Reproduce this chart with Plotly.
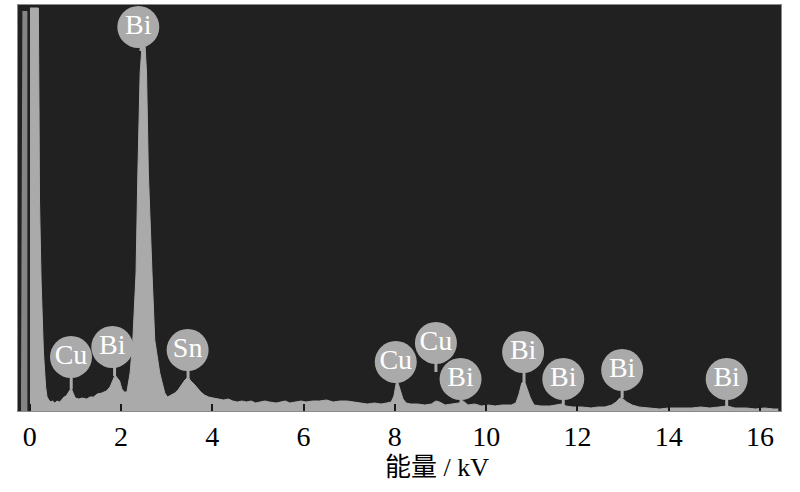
import plotly.graph_objects as go

# EDS spectrum: energy (keV) and counts (arbitrary units)
energy = [0.007, 0.19, 0.205, 0.215, 0.25, 0.30, 0.35, 0.38, 0.42, 0.46, 0.50, 0.55, 0.60, 0.65,
          0.70, 0.75, 0.80, 0.86, 0.91, 0.96, 1.00, 1.08, 1.15, 1.25, 1.32, 1.40, 1.48, 1.58,
          1.68, 1.76, 1.82, 1.87, 1.92, 1.97, 2.02, 2.07, 2.13, 2.20, 2.26, 2.33, 2.37, 2.42,
          2.46, 2.53, 2.56, 2.60, 2.68, 2.74, 2.85, 2.96, 3.02, 3.10, 3.18, 3.25, 3.33, 3.40,
          3.47, 3.53, 3.60, 3.67, 3.75, 3.83, 3.92, 4.02, 4.15, 4.25, 4.35, 4.45, 4.55, 4.65,
          4.75, 4.85, 4.95, 5.05, 5.15, 5.25, 5.40, 5.50, 5.60, 5.70, 5.80, 5.95, 6.05, 6.20,
          6.35, 6.50, 6.65, 6.80, 6.95, 7.10, 7.25, 7.40, 7.55, 7.70, 7.82, 7.92, 7.98, 8.03,
          8.07, 8.12, 8.18, 8.25, 8.35, 8.50, 8.65, 8.80, 8.90, 8.98, 9.10, 9.25, 9.40, 9.50,
          9.60, 9.75, 9.90, 10.05, 10.20, 10.35, 10.55, 10.65, 10.72, 10.78, 10.84, 10.90,
          10.97, 11.05, 11.20, 11.40, 11.55, 11.65, 11.75, 11.90, 12.10, 12.30, 12.45, 12.60,
          12.75, 12.85, 12.93, 13.00, 13.08, 13.20, 13.35, 13.55, 13.80, 14.00, 14.20, 14.50,
          14.70, 14.90, 15.10, 15.28, 15.45, 15.70, 15.90, 16.10, 16.30, 16.40]
counts = [403, 403, 300, 211, 130, 60, 24, 14, 11, 9, 10, 8, 10, 9,
          11, 14, 15, 19, 23, 17, 13, 12, 13, 12, 14, 14, 17, 18,
          20, 24, 31, 36, 33, 30, 22, 19, 19, 38, 71, 138, 238, 338,
          364, 364, 338, 238, 138, 71, 38, 18, 14, 16, 18, 21, 26, 31,
          34, 30, 27, 23, 19, 16, 14, 13, 12, 11, 12, 10, 9, 10,
          9, 10, 8, 9, 10, 9, 8, 9, 10, 8, 9, 10, 9, 10,
          10, 11, 9, 10, 10, 9, 8, 7, 8, 7, 8, 9, 15, 28,
          28, 20, 12, 8, 7, 7, 6, 7, 10, 9, 6, 7, 8, 10,
          6, 7, 5, 6, 5, 6, 6, 8, 17, 28, 30, 22,
          13, 6, 5, 5, 6, 7, 5, 4, 4, 3, 4, 4,
          6, 9, 13, 12, 9, 6, 4, 3, 2, 3, 3, 3,
          4, 3, 4, 5, 3, 3, 2, 3, 2, 2]

# dimmer shoulder just left of the zero peak
shoulder_energy = [-0.19, -0.16, -0.05]
shoulder_counts = [20, 400, 400]

# peak labels
label_text = ['Bi', 'Cu', 'Bi', 'Sn', 'Cu', 'Cu', 'Bi', 'Bi', 'Bi', 'Bi', 'Bi']
label_x = [2.38, 0.905, 1.81, 3.46, 8.02, 8.90, 9.44, 10.81, 11.69, 12.98, 15.27]
label_y = [384, 54, 64, 61, 49, 68, 32, 59, 32, 41, 32]
stick_x = [2.44, 0.91, 1.86, 3.47, 8.02, 8.90, 9.45, 10.83, 11.69, 12.98, 15.27]
stick_end = [360, 22, 35, 32, 28, 39, 9, 29, 6, 13, 4]

tick_vals = [0, 2, 4, 6, 8, 10, 12, 14, 16]

gray = '#aaaaaa'
serif = 'Liberation Serif, Times New Roman, serif'

fig = go.Figure()

fig.add_trace(go.Scatter(x=shoulder_energy, y=shoulder_counts, mode='lines',
                         fill='tozeroy', fillcolor='#858585',
                         line=dict(color='#858585', width=0), hoverinfo='skip'))

fig.add_trace(go.Scatter(x=energy, y=counts, mode='lines', fill='tozeroy',
                         fillcolor=gray, line=dict(color=gray, width=1)))

# sticks from each label down to its peak
sx, sy = [], []
for xs, y0, y1 in zip(stick_x, label_y, stick_end):
    sx += [xs, xs, None]
    sy += [y0, y1, None]
fig.add_trace(go.Scatter(x=sx, y=sy, mode='lines',
                         line=dict(color=gray, width=3), hoverinfo='skip'))

fig.add_trace(go.Scatter(x=label_x, y=label_y, mode='markers+text', text=label_text,
                         textposition='middle center', cliponaxis=False,
                         marker=dict(size=42, color=gray, line=dict(width=0)),
                         textfont=dict(family=serif, size=28, color='white')))

fig.update_layout(
    width=800, height=492,
    margin=dict(l=18, r=19, t=5, b=81),
    paper_bgcolor='white', plot_bgcolor='#212121',
    showlegend=False,
    annotations=[dict(text='能量 / kV', xref='paper', yref='paper',
                      x=0.549, y=-0.14, showarrow=False, xanchor='center', yanchor='middle',
                      font=dict(family='Liberation Serif, Noto Sans CJK SC', size=26, color='black'))],
)
fig.update_xaxes(range=[-0.256, 16.46], tickvals=tick_vals, ticks='inside', ticklen=7,
                 tickwidth=2, tickcolor='#1a1a1a', showgrid=False, zeroline=False,
                 showline=True, mirror=True, linecolor='#8a8a8a', linewidth=1,
                 layer='above traces', ticklabelstandoff=0,
                 tickfont=dict(family=serif, size=28, color='black'))
fig.update_yaxes(range=[0, 406], showticklabels=False, ticks='', showgrid=False,
                 zeroline=False, showline=True, mirror=True, linecolor='#8a8a8a', linewidth=1)

# drop the page margin so the figure sits at the window's corner
fig.write_html("out.html", config={'displayModeBar': False},
               post_script="document.body.style.margin='0';")
